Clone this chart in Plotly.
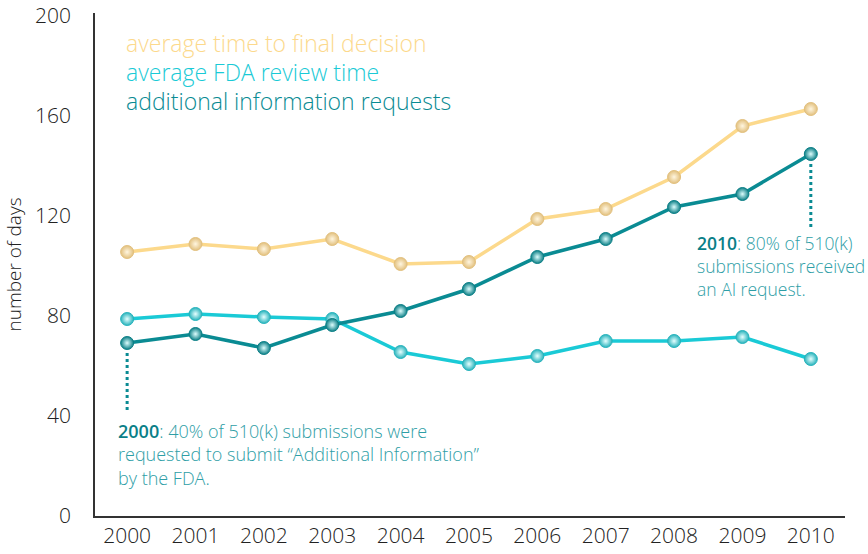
import plotly.graph_objects as go

years = [2000, 2001, 2002, 2003, 2004, 2005, 2006, 2007, 2008, 2009, 2010]
final_decision = [105.6, 108.8, 106.8, 110.8, 100.8, 101.6, 118.8, 122.8, 135.6, 156, 162.8]
fda_review = [78.8, 80.8, 79.6, 78.8, 65.6, 60.8, 64, 70, 70, 71.6, 62.8]
ai_requests = [69.2, 72.8, 67.2, 76.4, 82, 90.8, 103.6, 110.8, 123.6, 128.8, 144.8]
series_names = ["average time to final decision", "average FDA review time", "additional information requests"]
y_ticks = [0, 40, 80, 120, 160, 200]

FONT = "Open Sans"
W = 300
TXT = "#222222"
series = [
    (final_decision, "#FCD98C", "#FFF6E0", "#E2C07E"),
    (fda_review, "#1ACAD6", "#E6FFFF", "#27B3BC"),
    (ai_requests, "#0A8B93", "#DDFDFD", "#0B7F86"),
]

PL, PR, PT, PB = 95, 845, 13, 516
FW, FH = 868, 554
PW, PH = PR - PL, PB - PT


def px(xs):
    return (xs - PL) / PW


def py(ys):
    return (PB - ys) / PH


fig = go.Figure()
for (vals, lc, cc, ec), name in zip(series, series_names):
    fig.add_trace(go.Scatter(
        x=years, y=vals, mode="lines+markers", name=name,
        line=dict(color=lc, width=3.5),
        marker=dict(size=13, color=ec, gradient=dict(type="radial", color=cc),
                    line=dict(width=1, color=ec)),
        showlegend=False,
    ))

# legend-style labels
for i, ((vals, lc, cc, ec), name) in enumerate(zip(series, series_names)):
    fig.add_annotation(
        xref="paper", yref="paper", x=px(124), y=py(43 + 29 * i),
        text=name, showarrow=False, xanchor="left", yanchor="middle",
        font=dict(family=FONT, size=23, color=lc, weight=W),
    )

# dotted callout lines
fig.add_trace(go.Scatter(x=[years[0], years[0]], y=[ai_requests[0] - 4, 42],
                         mode="lines", line=dict(color="#0A8B93", width=3, dash="dot"),
                         showlegend=False, hoverinfo="skip"))
fig.add_trace(go.Scatter(x=[years[-1], years[-1]], y=[ai_requests[-1] - 4, 115],
                         mode="lines", line=dict(color="#0A8B93", width=3, dash="dot"),
                         showlegend=False, hoverinfo="skip"))

fig.add_annotation(
    x=px(116), y=py(454), xref="paper", yref="paper",
    xanchor="left", yanchor="middle", align="left", showarrow=False,
    text=("<span style='color:#0A7F88;font-weight:600'>2000</span>: 40% of 510(k) submissions were<br>"
          "requested to submit “Additional Information”<br>by the FDA."),
    font=dict(family=FONT, size=18, color="#2E9EA6", weight=W),
)
fig.add_annotation(
    x=px(695), y=py(266), xref="paper", yref="paper",
    xanchor="left", yanchor="middle", align="left", showarrow=False,
    text=("<span style='color:#0A7F88;font-weight:600'>2010</span>: 80% of 510(k)<br>"
          "submissions received<br>an AI request."),
    font=dict(family=FONT, size=17.5, color="#2E9EA6", weight=W),
)

tick_font = dict(family=FONT, size=21, color=TXT, weight=W)
fig.update_layout(
    width=FW, height=FH,
    margin=dict(l=PL, r=FW - PR, t=PT, b=FH - PB),
    paper_bgcolor="white", plot_bgcolor="white",
    font=dict(family=FONT, size=18, color=TXT),
    xaxis=dict(range=[1999.53, 2010.5], tickvals=years, ticktext=[str(y) for y in years],
               automargin=False,
               showgrid=False, zeroline=False, showline=True, linecolor="#333333", linewidth=1.5,
               ticks="", tickfont=tick_font),
    yaxis=dict(range=[0, 201.2], tickvals=y_ticks, showgrid=False, zeroline=False,
               automargin=False,
               showline=True, linecolor="#333333", linewidth=1.5, ticks="",
               ticklabelstandoff=18,
               title=dict(text="number of days", font=dict(family=FONT, size=19, color=TXT, weight=W),
                          standoff=8),
               tickfont=tick_font),
)

fig.write_html("out.html", config={"displayModeBar": False},
               post_script="document.body.style.margin='0';")
